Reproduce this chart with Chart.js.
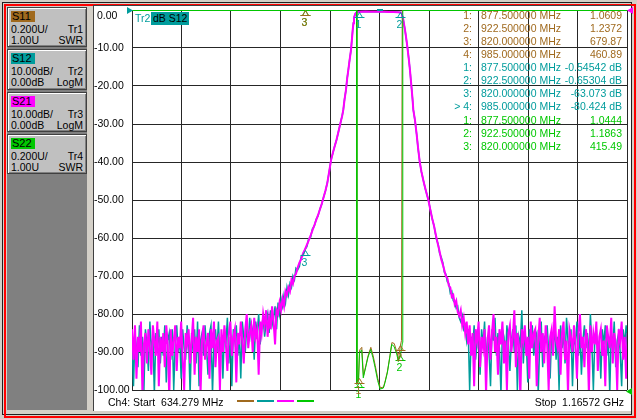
<!DOCTYPE html>
<html>
<head>
<meta charset="utf-8">
<script src="https://cdn.jsdelivr.net/npm/chart.js@4.4.1/dist/chart.umd.min.js"></script>
<style>
    html, body { margin: 0; padding: 0; }
    body {
        width: 637px; height: 419px; position: relative; overflow: hidden;
        background: #d4d0c8; color: #000;
        font-family: 'Liberation Sans', Arial, sans-serif; font-size: 10.5px;
    }
    .abs { position: absolute; white-space: pre; }
    .box {
        position: absolute; left: 7px; width: 78px; background: #c0c0c0;
        border: 1px solid #404040;
        box-shadow: inset 1px 1px 0 #ffffff, inset -1px -1px 0 #808080;
    }
    .chip { position: absolute; left: 3px; top: 3px; width: 23px; height: 11px; line-height: 11px; font-size: 11px; padding-left: 1px; }
    .ln { position: absolute; left: 3px; right: 3px; height: 12px; line-height: 12px; font-size: 10.5px; }
    .ln span { float: right; }
    .row { position: absolute; height: 13px; line-height: 13px; white-space: pre; }
</style>
</head>
<body>
<div class="abs" style="left:2px;top:2px;width:628px;height:411px;border:1px solid #202020;"></div>
<div class="abs" style="left:4px;top:4px;width:628px;height:410px;border:2px solid #ff0000;"></div>
<div class="abs" style="left:7px;top:7px;width:80px;height:403px;background:#808080;"></div>
<div class="abs" style="left:93px;top:5px;width:537px;height:405px;background:#fff;border-left:1px solid #404040;border-top:1px solid #404040;"></div>

<div id="traceBoxes"></div>

<canvas id="vnaChart" class="abs" width="537" height="405" style="left:94px;top:6px;"></canvas>

<div class="abs" style="left:135px;top:12px;height:13px;line-height:13px;color:#009c9c;">Tr2</div>
<div class="abs" style="left:151px;top:12px;height:13px;line-height:13px;padding:0 2px;background:#009c9c;color:#000;">dB S12</div>

<div class="abs" style="left:127px;top:7px;width:6px;height:7px;background:#009c9c;clip-path:polygon(0 0,100% 50%,0 100%);"></div>
<div class="abs" style="left:627px;top:7px;width:6px;height:7px;background:#ff00ff;clip-path:polygon(100% 0,0 50%,100% 100%);"></div>
<div class="abs" style="left:626px;top:388px;width:6px;height:7px;background:#00c800;clip-path:polygon(100% 0,0 50%,100% 100%);"></div>
<div class="abs" style="left:377px;top:9px;width:6px;height:2px;background:#009c9c;"></div>

<div id="markerTable"></div>

<div class="abs" style="left:108px;top:395px;height:14px;line-height:14px;">Ch4: Start  634.279 MHz</div>
<div class="abs" style="left:237px;top:400px;width:17px;height:2px;background:#a06a1e;"></div>
<div class="abs" style="left:257px;top:400px;width:17px;height:2px;background:#009c9c;"></div>
<div class="abs" style="left:277px;top:400px;width:17px;height:2px;background:#ff00ff;"></div>
<div class="abs" style="left:297px;top:400px;width:17px;height:2px;background:#00c800;"></div>
<div class="abs" style="right:13px;top:395px;height:14px;line-height:14px;">Stop  1.16572 GHz</div>

<script>
// sweep limits (MHz)
const START_MHZ = 634.279;
const STOP_MHZ = 1165.72;

const yTickLabels = ['0.00', '-10.00', '-20.00', '-30.00', '-40.00', '-50.00',
    '-60.00', '-70.00', '-80.00', '-90.00', '-100.00'];

const BROWN = '#a06a1e';
const TEAL = '#009c9c';
const MAGENTA = '#ff00ff';
const GREEN = '#00c800';

// left channel boxes
const traceNames = ['S11', 'S12', 'S21', 'S22'];
const traceColors = [BROWN, TEAL, MAGENTA, GREEN];
const traceScale = ['0.200U/', '10.00dB/', '10.00dB/', '0.200U/'];
const traceRef = ['1.00U', '0.00dB', '0.00dB', '1.00U'];
const traceIds = ['Tr1', 'Tr2', 'Tr3', 'Tr4'];
const traceFormat = ['SWR', 'LogM', 'LogM', 'SWR'];

// noise floor below the passband, sweep points every 1.6 MHz from the start
const lowNoiseStart = 634.279;
const lowNoiseStep = 1.6;
const s21Low = [
    -84, -92, -83, -97, -86, -90, -82, -101, -88, -85,
    -93, -84, -89, -96, -83, -87, -91, -82, -99, -86,
    -90, -85, -94, -83, -88, -102, -84, -91, -87, -83,
    -95, -86, -89, -82, -92, -100, -85, -88, -84, -93,
    -87, -81, -96, -86, -90, -84, -101, -87, -83, -92,
    -88, -85, -97, -84, -89, -82, -94, -87, -86, -100,
    -84, -90, -83, -88, -95, -85, -82, -91, -86, -84,
    -98, -85, -88, -82, -87, -93, -84, -80, -89, -85,
    -83, -90, -81, -86, -84, -96, -82, -85, -80, -83,
    -79, -86, -81, -84, -78, -82, -88, -79, -80, -77,
    -79, -76, -78, -74, -75, -73, -74, -71, -72, -70,
    -69.5, -68
];
const s12Low = [
    -87, -99, -85, -89, -94, -83, -91, -86, -100, -84,
    -88, -95, -82, -90, -86, -101, -85, -89, -84, -93,
    -86, -91, -83, -98, -87, -85, -92, -84, -100, -88,
    -83, -90, -86, -97, -84, -89, -92, -83, -87, -101,
    -85, -90, -84, -93, -82, -99, -87, -85, -91, -83,
    -89, -96, -85, -83, -101, -88, -84, -90, -82, -92,
    -86, -97, -84, -88, -81, -93, -86, -99, -84, -87,
    -83, -91, -85, -97, -82, -86, -90, -83, -88, -81,
    -86, -84, -92, -82, -85, -80, -88, -83, -81, -86,
    -82, -80, -85, -79, -83, -81, -78, -84, -77, -80,
    -76, -78, -75, -77, -73, -75, -72, -73, -70, -71,
    -68, -68.5
];

// filter skirts and passband (MHz / dB)
const skirtFreq = [
    814, 816, 818, 820, 822, 824, 826, 828, 830, 832,
    834, 836, 838, 840, 842, 844, 846, 848, 850, 852,
    854, 856, 858, 860, 861.1, 862.5, 864, 865.3, 866.5, 868,
    869.4, 870.3, 871.2, 872, 872.6, 874, 875.5, 877.5, 880, 885,
    890, 895, 900, 905, 910, 915, 920, 922.5, 923.8, 925.5,
    927.4, 929, 930.3, 931.5, 932.7, 933.7, 934.6, 935.5, 936.3, 938.1,
    940, 941.5, 943.2, 945, 947, 949, 951, 952.5, 954.5, 956.5,
    958.5, 960, 961.2, 963, 964.5, 966.2
];
const s21Skirt = [
    -66.5, -65.5, -64, -63, -61.8, -60.6, -59.4, -58, -56.7, -55.3,
    -54, -52.5, -51, -49.3, -47.5, -45.5, -42.5, -39.5, -37.5, -35.8,
    -34, -32, -29.8, -27.8, -26.3, -23.5, -21, -18, -15.8, -13,
    -10.5, -8, -5.3, -3.5, -2, -1, -0.6, -0.55, -0.45, -0.42,
    -0.45, -0.48, -0.44, -0.47, -0.5, -0.52, -0.58, -0.65, -0.9, -2.5,
    -5.3, -8, -10.5, -13, -15.8, -18.5, -21, -23.5, -26.3, -29,
    -33, -36.5, -40, -42.5, -44.8, -46.8, -48.7, -50, -52.5, -54.8,
    -56.8, -58.6, -60, -62, -63.5, -65.5
];
const s12Skirt = [
    -67.5, -64.8, -64.6, -63.07, -62.3, -60.2, -59.8, -57.6, -56.9, -55.1,
    -54.2, -52.4, -51.1, -49.2, -47.6, -45.4, -42.6, -39.4, -37.6, -35.7,
    -34.1, -31.9, -29.9, -27.7, -26.4, -23.4, -21.1, -17.9, -15.9, -12.9,
    -10.6, -7.9, -5.4, -3.4, -2.1, -1, -0.6, -0.545, -0.46, -0.43,
    -0.46, -0.49, -0.45, -0.48, -0.51, -0.53, -0.59, -0.653, -0.9, -2.6,
    -5.2, -8.1, -10.4, -13.1, -15.7, -18.6, -20.9, -23.6, -26.2, -29.1,
    -32.9, -36.6, -39.9, -42.6, -44.7, -46.9, -48.6, -50.1, -52.4, -54.9,
    -56.7, -58.8, -60.4, -61.6, -64, -65
];

// noise floor above the passband, sweep points every 1.6 MHz from 968 MHz
const highNoiseStart = 968;
const highNoiseStep = 1.6;
const s21High = [
    -67, -68.5, -70, -70.5, -72.5, -73, -75.5, -75, -77.5, -76.5,
    -79.5, -80.5, -79, -83, -81, -85, -82,
    -88, -83, -91, -85, -99, -84, -87, -82, -94, -86,
    -89, -84, -101, -87, -83, -92, -85, -80, -90, -86,
    -96, -84, -88, -82, -93, -87, -100, -85, -83, -90,
    -86, -79, -94, -85, -88, -102, -84, -87, -83, -91,
    -86, -97, -82, -89, -85, -84, -99, -87, -81, -90,
    -85, -93, -83, -88, -100, -86, -84, -91, -78, -87,
    -89, -84, -96, -85, -82, -92, -87, -101, -84, -86,
    -90, -83, -88, -97, -85, -80, -89, -86, -94, -84,
    -87, -101, -83, -90, -85, -88, -82, -95, -86, -84,
    -91, -87, -99, -83, -86, -89, -81, -93, -85, -88,
    -100, -84, -87, -82, -92, -86, -97, -85
];
const s12High = [
    -66.5, -69, -69.5, -71.5, -72, -74.5, -74, -76.5, -77, -78.5,
    -78, -81, -82, -80.5, -84, -83, -87,
    -84, -100, -86, -89, -83, -92, -87, -85, -96, -84,
    -88, -82, -93, -86, -90, -99, -84, -87, -81, -91,
    -85, -89, -101, -84, -86, -92, -83, -88, -95, -87,
    -84, -90, -83, -100, -86, -88, -79, -93, -85, -87,
    -98, -84, -89, -83, -91, -86, -85, -101, -88, -82,
    -94, -86, -87, -83, -90, -97, -85, -88, -84, -92,
    -86, -100, -83, -89, -85, -93, -81, -87, -90, -84,
    -99, -86, -88, -82, -91, -85, -96, -87, -83, -89,
    -85, -92, -80, -88, -100, -86, -84, -90, -87, -97,
    -84, -88, -83, -91, -86, -101, -85, -89, -82, -94,
    -87, -85, -90, -99, -84, -88, -83, -92
];

// reflection traces as SWR (values off the top of the grid are shown pinned at 3.00)
const s11Freq = [634.279, 875.3, 875.6, 877.5, 878.6, 881, 882.8, 885.4, 887.7, 890.7,
    893.2, 895.4, 898.2, 900.8, 904.3, 906.2, 908.6, 911.2, 913.3, 915.8,
    918.7, 920.4, 922.5, 923.6, 924.4, 1165.72];
const s11Swr = [3, 3, 1.04, 1.061, 1.21, 1.225, 1.075, 1.13, 1.18, 1.225,
    1.18, 1.13, 1.06, 1.012, 1.015, 1.05, 1.1, 1.18, 1.25, 1.245,
    1.2, 1.16, 1.237, 1.26, 3, 3];
const s22Freq = [634.279, 875.4, 875.7, 877.5, 878.5, 880.9, 882.6, 885.2, 887.5, 890.5,
    893, 895.2, 898, 900.6, 904.1, 906, 908.4, 911, 913.1, 915.6,
    918.5, 920.2, 922.5, 923.8, 924.6, 925.0, 1165.72];
const s22Swr = [3, 3, 1.03, 1.044, 1.2, 1.21, 1.064, 1.12, 1.17, 1.214,
    1.17, 1.12, 1.05, 1.005, 1.01, 1.04, 1.09, 1.17, 1.24, 1.23,
    1.19, 1.15, 1.186, 1.22, 1.25, 3, 3];

// markers
const markerFreq = [877.5, 922.5, 820, 985];
const s11MarkerVal = [1.0609, 1.2372, 679.87, 460.89];
const s12MarkerVal = [-0.54542, -0.65304, -63.073, -80.424];
const s22MarkerVal = [1.0444, 1.1863, 415.49];
const s11Readout = ['1.0609', '1.2372', '679.87', '460.89'];
const s12Readout = ['-0.54542 dB', '-0.65304 dB', '-63.073 dB', '-80.424 dB'];
const s22Readout = ['1.0444', '1.1863', '415.49'];
const activeMarker = 4;

// --- channel boxes on the left ---
const boxTops = [7, 49, 92, 134];
const boxHeights = [38, 39, 38, 38];
const boxHolder = document.getElementById('traceBoxes');
traceNames.forEach((name, i) => {
    const box = document.createElement('div');
    box.className = 'box';
    box.style.top = boxTops[i] + 'px';
    box.style.height = boxHeights[i] + 'px';
    box.innerHTML =
        `<div class="chip" style="background:${traceColors[i]}">${name}</div>` +
        `<div class="ln" style="top:15px">${traceScale[i]}<span>${traceIds[i]}</span></div>` +
        `<div class="ln" style="top:26px">${traceRef[i]}<span>${traceFormat[i]}</span></div>`;
    boxHolder.appendChild(box);
});

// --- marker readout table ---
const tableRows = [];
s11Readout.forEach((v, i) => tableRows.push({ n: (i + 1) + ':', f: markerFreq[i], v, c: BROWN }));
s12Readout.forEach((v, i) => tableRows.push({ n: (i + 1 === activeMarker ? '> ' : '') + (i + 1) + ':', f: markerFreq[i], v, c: TEAL }));
s22Readout.forEach((v, i) => tableRows.push({ n: (i + 1) + ':', f: markerFreq[i], v, c: GREEN }));

const table = document.getElementById('markerTable');
tableRows.forEach((r, k) => {
    const top = Math.round(9.2 + k * 13.04);
    const cells = [
        `<div class="row" style="top:${top}px;right:${637 - 472}px;color:${r.c}">${r.n}</div>`,
        `<div class="row" style="top:${top}px;left:481px;color:${r.c}">${r.f.toFixed(6)} MHz</div>`,
        `<div class="row" style="top:${top}px;right:${637 - 622}px;color:${r.c}">${r.v}</div>`
    ];
    table.insertAdjacentHTML('beforeend', cells.join(''));
});

// --- chart ---
function sweepPoints(start, step, values) {
    return values.map((v, i) => ({ x: start + i * step, y: v }));
}
function pairPoints(freqs, values) {
    return freqs.map((f, i) => ({ x: f, y: values[i] }));
}

const s21Data = sweepPoints(lowNoiseStart, lowNoiseStep, s21Low)
    .concat(pairPoints(skirtFreq, s21Skirt), sweepPoints(highNoiseStart, highNoiseStep, s21High));
const s12Data = sweepPoints(lowNoiseStart, lowNoiseStep, s12Low)
    .concat(pairPoints(skirtFreq, s12Skirt), sweepPoints(highNoiseStart, highNoiseStep, s12High));

const markerPlugin = {
    id: 'vnaMarkers',
    afterDatasetsDraw(chart) {
        const ctx = chart.ctx;
        const area = chart.chartArea;
        const xs = chart.scales.x;
        const groups = [
            { vals: s22MarkerVal, scale: chart.scales.ySwr, color: GREEN },
            { vals: s11MarkerVal, scale: chart.scales.ySwr, color: BROWN },
            { vals: s12MarkerVal, scale: chart.scales.y, color: TEAL }
        ];
        ctx.save();
        ctx.font = '10.5px "Liberation Sans", Arial, sans-serif';
        ctx.textAlign = 'center';
        ctx.textBaseline = 'middle';
        ctx.lineWidth = 1;
        groups.forEach(g => {
            ctx.strokeStyle = g.color;
            ctx.fillStyle = g.color;
            for (let i = 0; i < 3; i++) {
                const px = Math.round(xs.getPixelForValue(markerFreq[i])) + 0.5;
                let py = g.scale.getPixelForValue(g.vals[i]);
                py = Math.round(Math.min(area.bottom, Math.max(area.top, py))) + 0.5;
                ctx.beginPath();
                ctx.moveTo(px, py);
                ctx.lineTo(px - 3, py + 5);
                ctx.lineTo(px + 3, py + 5);
                ctx.closePath();
                ctx.moveTo(px - 5, py + 5);
                ctx.lineTo(px + 5, py + 5);
                ctx.stroke();
                ctx.fillText(String(i + 1), px - 1, py + 13);
            }
        });
        ctx.restore();
    }
};

const gridColor = '#262626';
const tickFont = { family: "'Liberation Sans', Arial, sans-serif", size: 10.5 };

new Chart(document.getElementById('vnaChart'), {
    type: 'line',
    data: {
        datasets: [
            { label: 'S11', data: pairPoints(s11Freq, s11Swr), yAxisID: 'ySwr', borderColor: BROWN, borderWidth: 1, order: 4 },
            { label: 'S12', data: s12Data, yAxisID: 'y', borderColor: TEAL, borderWidth: 1.5, order: 3 },
            { label: 'S21', data: s21Data, yAxisID: 'y', borderColor: MAGENTA, borderWidth: 2, order: 2 },
            { label: 'S22', data: pairPoints(s22Freq, s22Swr), yAxisID: 'ySwr', borderColor: GREEN, borderWidth: 1, order: 1 }
        ]
    },
    options: {
        responsive: false,
        animation: false,
        devicePixelRatio: 1,
        parsing: false,
        layout: { padding: { left: 0, right: 4, top: 4, bottom: 21 } },
        elements: {
            point: { radius: 0 },
            line: { tension: 0, fill: false }
        },
        plugins: {
            legend: { display: false },
            tooltip: { enabled: false }
        },
        scales: {
            x: {
                type: 'linear',
                min: START_MHZ,
                max: STOP_MHZ,
                ticks: { count: 11, display: false },
                grid: { color: gridColor, lineWidth: 1, drawTicks: false },
                border: { display: false },
                afterFit(scale) { scale.height = 0; scale.paddingLeft = 0; scale.paddingRight = 0; }
            },
            y: {
                type: 'linear',
                min: -100,
                max: 0,
                ticks: {
                    stepSize: 10,
                    crossAlign: 'far',
                    padding: 0,
                    autoSkip: false,
                    color: '#000',
                    font: tickFont,
                    callback(value) {
                        const i = Math.round(-value / 10);
                        return i === 0 ? ['', ' ' + yTickLabels[0]] : yTickLabels[i];
                    }
                },
                grid: { color: gridColor, lineWidth: 1, drawTicks: false },
                border: { display: false },
                afterFit(scale) { scale.width = 38; scale.paddingTop = 0; scale.paddingBottom = 0; }
            },
            ySwr: {
                type: 'linear',
                display: false,
                min: 1,
                max: 3.0026
            }
        }
    },
    plugins: [markerPlugin]
});
</script>
</body>
</html>
